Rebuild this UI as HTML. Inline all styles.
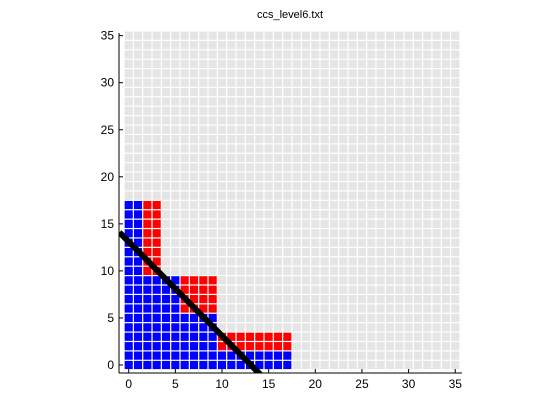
<!DOCTYPE html>
<html><head><meta charset="utf-8"><style>
html,body{margin:0;padding:0;background:#fff;width:560px;height:420px;overflow:hidden}
svg{display:block;font-family:"Liberation Sans",sans-serif}
</style></head><body>
<svg id="chart" width="560" height="420" xmlns="http://www.w3.org/2000/svg">
<text x="290" y="18" font-size="11" text-anchor="middle">ccs_level6.txt</text>
<defs><clipPath id="clip"><rect x="119" y="31" width="345" height="342"/></clipPath></defs>
<g id="cells"></g>
<g id="lines" clip-path="url(#clip)"></g>
<g id="axes"></g>
</svg>
<script>
const colIndex=[0,1,2,3,4,5,6,7,8,9,10,11,12,13,14,15,16,17];
const blueTop=[17,17,9,9,9,9,5,5,5,5,1,1,1,1,1,1,1,1];
const redTop=[-1,-1,17,17,-1,-1,9,9,9,9,3,3,3,3,3,3,3,3];
const gridMax=35;
const lineX=[-1,36];
const lineIntercept=13.1;
const lineSlope=-1;
const xTicks=[0,5,10,15,20,25,30,35];
const yTicks=[0,5,10,15,20,25,30,35];

const X=v=>128.7+v*9.33;
const Y=v=>365-v*9.41;
const NS="http://www.w3.org/2000/svg";
function mk(t,a,p){const e=document.createElementNS(NS,t);for(const k in a)e.setAttribute(k,a[k]);p.appendChild(e);return e;}
const cells=document.getElementById('cells');
for(let i=0;i<=gridMax;i++){for(let j=0;j<=gridMax;j++){
  let col='#e5e5e5';
  const k=colIndex.indexOf(i);
  if(k>=0){ if(j<=blueTop[k]) col='#0000ff'; else if(j<=redTop[k]) col='#ff0000'; }
  const r=mk('rect',{x:X(i-0.5)+0.6,y:Y(j+0.5)+0.6,width:9.33-1.2,height:9.41-1.2,fill:col},cells);
  
  
}}
const lines=document.getElementById('lines');
const ln=mk('line',{x1:X(lineX[0]),y1:Y(lineIntercept+lineSlope*lineX[0]),x2:X(lineX[1]),y2:Y(lineIntercept+lineSlope*lineX[1]),stroke:'#000','stroke-width':6},lines);


const axes=document.getElementById('axes');
const xa=mk('line',{x1:119,y1:373,x2:462,y2:373,stroke:'#000','stroke-width':1},axes);


const ya=mk('line',{x1:119,y1:33,x2:119,y2:373,stroke:'#000','stroke-width':1},axes);


xTicks.forEach(v=>{
  mk('line',{x1:X(v),y1:373,x2:X(v),y2:369,stroke:'#000'},axes);
  const t=mk('text',{x:X(v),y:388,'font-size':12,'text-anchor':'middle'},axes);
  t.textContent=v;
  
  
});
yTicks.forEach(v=>{
  mk('line',{x1:119,y1:Y(v),x2:123,y2:Y(v),stroke:'#000'},axes);
  const t=mk('text',{x:114,y:Y(v)+4,'font-size':12,'text-anchor':'end'},axes);
  t.textContent=v;
  
  
});
</script>
</body></html>
